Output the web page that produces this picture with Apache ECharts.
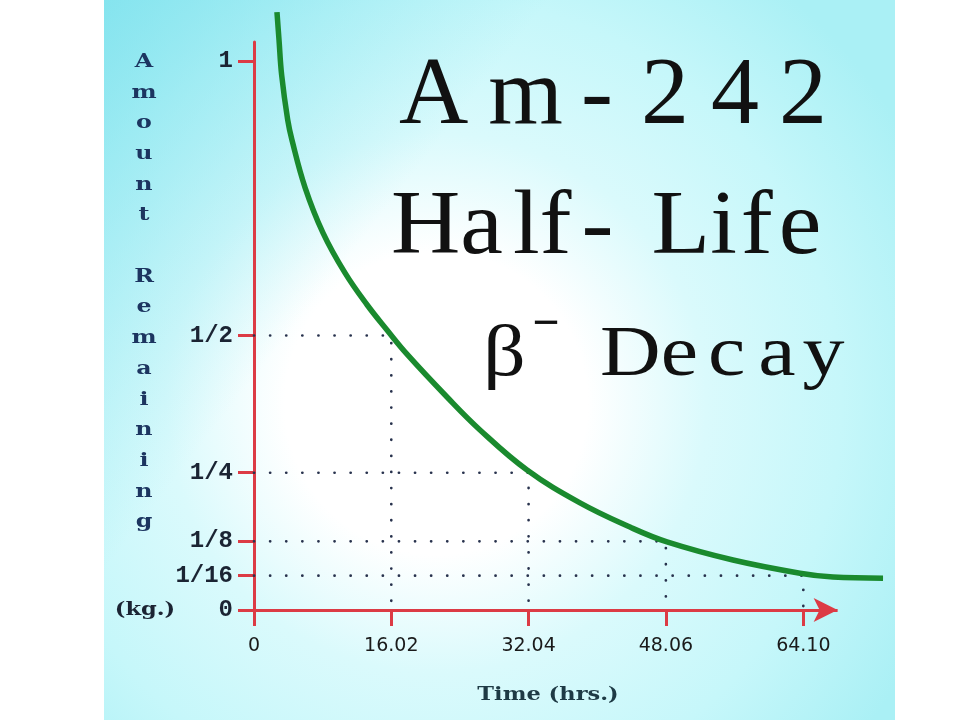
<!DOCTYPE html>
<html><head><meta charset="utf-8">
<script src="https://cdn.jsdelivr.net/npm/echarts@6/dist/echarts.min.js"></script>
<style>html,body{margin:0;padding:0;background:#fff}#c{width:960px;height:720px}</style>
</head><body><div id="c"></div>
<script>
// ---- data ----
const curveTime   = [2.68, 2.92, 3.23, 3.93, 4.43, 5.95, 8.05, 10.62, 13.19, 15.52, 17.85, 22.52, 26.37, 31.86, 38.04, 43.87, 48.19, 55.89, 63.71, 67.56, 73.40];
const curveAmount = [1.089, 1.038, 0.974, 0.893, 0.856, 0.770, 0.687, 0.614, 0.556, 0.510, 0.466, 0.388, 0.328, 0.255, 0.195, 0.151, 0.124, 0.091, 0.067, 0.060, 0.058];
const halfLifeTimes = [16.02, 32.04, 48.06, 64.10];
const halfFractions = [0.5, 0.25, 0.125, 0.0625];
const xTickValues = [0, 16.02, 32.04, 48.06, 64.10];
const xTickLabels = ['0', '16.02', '32.04', '48.06', '64.10'];
const yTickValues = [1, 0.5, 0.25, 0.125, 0.0625, 0];
const yTickLabels = ['1', '1/2', '1/4', '1/8', '1/16', '0'];
const xAxisArrowEnd = 68.1;
const titleLine1 = 'Am-242';
const titleLine2 = 'Half-Life';
const titleLine3a = 'β';
const titleLine3b = '−';
const titleLine3c = 'Decay';
const yName = 'Amount Remaining';
const yUnit = '(kg.)';
const xName = 'Time (hrs.)';

// ---- styling ----
const RED = '#dc3b45';
const SERIF = '"Liberation Serif", "Times New Roman", serif';

function spaced(str, pads, size, family, color) {
  const chars = Array.from(str);
  const rich = {};
  const text = chars.map((c, i) => {
    rich['c' + i] = { fontSize: size, fontFamily: family, fill: color, padding: [0, pads[i] || 0, 0, 0] };
    return '{c' + i + '|' + c + '}';
  }).join('');
  return { text, rich };
}

const t1 = spaced(titleLine1, [20, 18, 28, 22, 20, 0], 96, SERIF, '#111');
const t2 = spaced(titleLine2, [0, 10, 0, 10, 38, 0, 4, 6, 0], 96, SERIF, '#111');
const t3 = spaced(titleLine3c, [0, 10, 13, 7, 0], 84, SERIF, '#111');

const chart = echarts.init(document.getElementById('c'), null, { renderer: 'canvas' });

const dottedSeries = halfLifeTimes.map((t, i) => ({
  type: 'line',
  data: [[0, halfFractions[i]], [t, halfFractions[i]], [t, 0]],
  symbol: 'none', silent: true, z: 1, animation: false,
  lineStyle: { color: '#28324d', width: 2.7, type: [0.1, 16], cap: 'round' }
}));
// red x axis line with arrow, ending where the picture's arrow ends
dottedSeries[0].markLine = {
  silent: true, animation: false, z: 3,
  symbol: ['none', 'arrow'], symbolSize: [18, 24],
  label: { show: false },
  lineStyle: { color: RED, width: 3, type: 'solid' },
  emphasis: { disabled: true },
  data: [[{ coord: [0, 0] }, { coord: [xAxisArrowEnd, 0] }]]
};

const option = {
  backgroundColor: '#ffffff',
  animation: false,
  grid: { left: 254, top: 42, width: 631, height: 568, containLabel: false },
  xAxis: {
    type: 'value', min: 0, max: 73.63,
    splitLine: { show: false },
    axisLine: { show: false },
    axisTick: { show: true, length: 16, customValues: xTickValues, lineStyle: { color: RED, width: 3 } },
    axisLabel: {
      show: true, customValues: xTickValues, margin: 27,
      formatter: v => xTickLabels[xTickValues.indexOf(v)],
      fontFamily: '"DejaVu Sans", sans-serif', fontSize: 19, color: '#1a1a1a'
    }
  },
  yAxis: {
    type: 'value', min: 0, max: 1.0346,
    splitLine: { show: false },
    axisLine: { show: true, onZero: false, lineStyle: { color: RED, width: 3 } },
    axisTick: { show: true, length: 16, customValues: yTickValues, lineStyle: { color: RED, width: 3 } },
    axisLabel: {
      show: true, customValues: yTickValues, margin: 21,
      formatter: v => yTickLabels[yTickValues.indexOf(v)],
      fontFamily: '"Liberation Mono", monospace', fontWeight: 'bold', fontSize: 24, color: '#1b2433'
    }
  },
  series: dottedSeries.concat([{
    type: 'line',
    data: curveTime.map((t, i) => [t, curveAmount[i]]),
    symbol: 'none', smooth: 0.4, clip: false, z: 5,
    lineStyle: { color: '#1a8a2e', width: 5.5 }
  }]),
  graphic: [
    { type: 'rect', z: -20, silent: true, shape: { x: 104, y: 0, width: 791, height: 720 },
      style: { fill: new echarts.graphic.RadialGradient(0.42, 0.56, 0.75, [
        { offset: 0, color: '#ffffff' }, { offset: 0.28, color: '#ffffff' },
        { offset: 0.5, color: '#dafafc' }, { offset: 0.75, color: '#c6f7fa' }, { offset: 1, color: '#aaf0f5' }]) } },
    { type: 'rect', z: -19, silent: true, shape: { x: 104, y: 0, width: 791, height: 720 },
      style: { fill: new echarts.graphic.LinearGradient(0, 0, 0.35, 0.3, [
        { offset: 0, color: 'rgba(120,224,236,0.75)' }, { offset: 1, color: 'rgba(120,224,236,0)' }]) } },
    { type: 'text', z: 100, x: 399, y: 98, scaleY: 0.99,
      style: { text: t1.text, rich: t1.rich, fontSize: 96, fontFamily: SERIF, fill: '#111', align: 'left', verticalAlign: 'middle' } },
    { type: 'text', z: 100, x: 391, y: 229, scaleY: 0.95,
      style: { text: t2.text, rich: t2.rich, fontSize: 96, fontFamily: SERIF, fill: '#111', align: 'left', verticalAlign: 'middle' } },
    { type: 'text', z: 100, x: 483, y: 356, scaleY: 0.86,
      style: { text: titleLine3a, fontSize: 84, fontFamily: SERIF, fill: '#111', align: 'left', verticalAlign: 'middle' } },
    { type: 'text', z: 100, x: 546, y: 326,
      style: { text: titleLine3b, fontSize: 48, fontWeight: 'bold', fontFamily: SERIF, fill: '#111', align: 'center', verticalAlign: 'middle' } },
    { type: 'text', z: 100, x: 600, y: 356, scaleY: 0.86,
      style: { text: t3.text, rich: t3.rich, fontSize: 84, fontFamily: SERIF, fill: '#111', align: 'left', verticalAlign: 'middle' } },
    { type: 'text', z: 100, x: 144, y: 46.6, scaleX: 1.25,
      style: { text: Array.from(yName).join('\n').replace(/\n \n/, '\n\n'), fontSize: 19, fontWeight: 'bold',
        fontFamily: '"DejaVu Serif", serif', fill: '#1c3560', align: 'center', verticalAlign: 'top', lineHeight: 30.7 } },
    { type: 'text', z: 100, x: 145, y: 610, scaleX: 1.25,
      style: { text: yUnit, fontSize: 18, fontWeight: 'bold', fontFamily: '"DejaVu Serif", serif', fill: '#1b2433', align: 'center', verticalAlign: 'middle' } },
    { type: 'text', z: 100, x: 548, y: 695, scaleX: 1.25,
      style: { text: xName, fontSize: 18, fontWeight: 'bold', fontFamily: '"DejaVu Serif", serif', fill: '#1e3a45', align: 'center', verticalAlign: 'middle' } }
  ]
};
chart.setOption(option);
</script></body></html>
